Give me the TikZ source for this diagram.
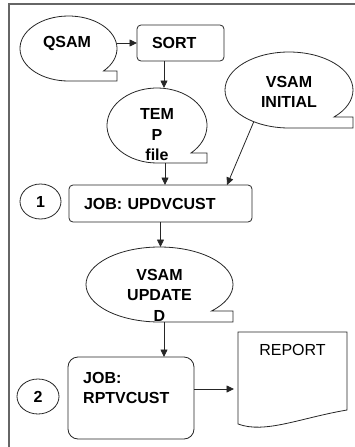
\documentclass[tikz,border=0pt]{standalone}
\usepackage{fontspec}
\setmainfont{Liberation Sans}
\usepackage{tikz}
\usetikzlibrary{arrows.meta,calc,shapes.geometric}
\tikzset{%
  tipA/.tip={Triangle[length=7.5pt,width=7pt]},
  outline/.style={draw=black!85, line width=0.8pt},
  tape/.style={ellipse, inner sep=0pt, outer sep=0pt},
  tapetext/.style={align=center, inner sep=0pt, font=\bfseries\fontsize{16}{20.5}\selectfont},
  jobbox/.style={outline, rounded corners=4pt, inner xsep=15pt, inner ysep=0pt, outer sep=0pt, align=left, font=\bfseries\fontsize{16}{20}\selectfont},
  stepnum/.style={outline, ellipse, inner sep=0pt, font=\bfseries\fontsize{16}{20}\selectfont},
  conn/.style={black!85, line width=0.8pt, -tipA},
  frame/.style={draw=black!60, line width=1.6pt}
}
\newcommand{\tapeoutline}[2]{%
  \draw[outline] let \p1=(#1.center), \p2=(#1.east), \p3=(#1.south),
    \n1={scalar(\x2-\x1)}, \n2={scalar(\y1-\y3)}, \n3={-asin(1-#2/\n2)} in
    (\p1) ++(\n3:\n1pt and \n2pt)
    arc[start angle=\n3, end angle=270, x radius=\n1pt, y radius=\n2pt]
    -- (\x2,\y3) -- (\x2,{\y3+#2pt}) -- cycle;
}
\begin{document}
\begin{tikzpicture}[x=1pt,y=-1pt]
\useasboundingbox (0,0) rectangle (355,447);
\draw[frame] (9,448) -- (9,4) -- (356,4);
% tape files
\node[tape, minimum width=97pt, minimum height=65pt] (qsam) at (68.5,48.5) {};
\node[tape, minimum width=100pt, minimum height=75pt] (temp) at (157,125.5) {};
\node[tape, minimum width=128pt, minimum height=76pt] (vinit) at (289,90) {};
\node[tape, minimum width=147pt, minimum height=75pt] (vupd) at (159.5,284.5) {};
\tapeoutline{qsam}{10}
\tapeoutline{temp}{10}
\tapeoutline{vinit}{11}
\tapeoutline{vupd}{11}
\node[tapetext] (qsamtxt) at (67,43) {QSAM};
\node[tapetext] (temptxt) at (157,135) {TEM\\P\\file};
\node[tapetext] (vinittxt) at (289,92) {VSAM\\INITIAL};
\node[tapetext] (vupdtxt) at (159.5,295) {VSAM\\UPDATE\\D};
% steps
\node[jobbox, minimum width=87pt, minimum height=36pt, text width=57pt] (sort) at (180.5,43) {SORT};
\node[jobbox, minimum width=183pt, minimum height=37pt, text width=153pt] (job1) at (160.5,203.5) {JOB: UPDVCUST};
\node[jobbox, rounded corners=10pt, minimum width=126pt, minimum height=82pt] (job2) at (131,398) {};
\node[anchor=west, align=left, inner sep=0pt, font=\bfseries\fontsize{16}{20}\selectfont] (job2txt) at (83,388) {JOB:\\RPTVCUST};
\node[stepnum, minimum width=41pt, minimum height=35pt] (num1) at (40.5,201.5) {1};
\node[stepnum, minimum width=42pt, minimum height=35pt] (num2) at (38,396.5) {2};
% report
\node[minimum width=109pt, minimum height=92pt, inner sep=0pt, outer sep=0pt] (report) at (292.5,378) {};
\draw[outline] (report.north west) -- (report.north east) -- ([yshift=14pt]report.south east)
  .. controls (300,418) and (265,434) .. (report.south west) -- cycle;
\node[font=\fontsize{16}{20}\selectfont, inner sep=0pt] (reporttxt) at (292.5,350) {REPORT};
% flow
\coordinate (job2out) at ([yshift=9pt]job2.east);
\draw[conn] (qsam.east |- sort.west) -- (sort.west);
\draw[conn] ([xshift=-16.5pt]sort.south) -- ([xshift=-16.5pt]sort.south |- temp.north);
\draw[conn] ([xshift=8pt]temp.south) -- ([xshift=8pt]temp.south |- job1.north);
\draw[conn] (vinit.222) -- ([xshift=66.5pt]job1.north);
\draw[conn] (job1.south) -- (job1.south |- vupd.north);
\draw[conn] ([xshift=4.5pt]vupd.south) -- ([xshift=4.5pt]vupd.south |- job2.north);
\draw[conn, shorten >=4pt] (job2out) -- (report.west |- job2out);
\end{tikzpicture}
\end{document}
